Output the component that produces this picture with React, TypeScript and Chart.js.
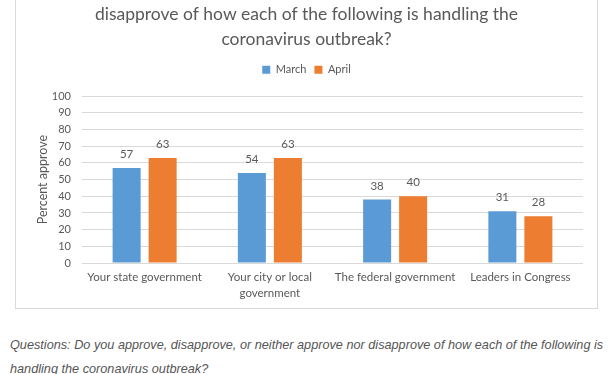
import React, { useEffect, useRef } from 'react';
import { Chart, registerables } from 'chart.js';

Chart.register(...registerables);

// ---- data ----
const titleLines = [
  'Do you approve, disapprove, or neither approve nor',
  'disapprove of how each of the following is handling the',
  'coronavirus outbreak?',
];
const categories: (string | string[])[] = [
  'Your state government',
  ['Your city or local', 'government'],
  'The federal government',
  'Leaders in Congress',
];
const seriesNames = ['March', 'April'];
const marchValues = [57, 54, 38, 31];
const aprilValues = [63, 63, 40, 28];
const yMin = 0;
const yMax = 100;
const yStep = 10;
const yAxisTitle = 'Percent approve';
const captionLines = [
  'Questions: Do you approve, disapprove, or neither approve nor disapprove of how each of the following is',
  'handling the coronavirus outbreak?',
];

const TEXT = '#595959';
const FONT = 'Lato, "Open Sans", sans-serif';

const legendSpacer = {
  id: 'legendSpacer',
  beforeInit(chart: any) {
    const legend = chart.legend;
    if (!legend) return;
    const origFit = legend.fit;
    legend.fit = function () {
      origFit.call(this);
      this.height += 11;
    };
  },
};

const valueLabels = {
  id: 'valueLabels',
  afterDatasetsDraw(chart: any) {
    const { ctx } = chart;
    ctx.save();
    ctx.font = `11.5px ${FONT}`;
    ctx.fillStyle = TEXT;
    ctx.textAlign = 'center';
    ctx.textBaseline = 'middle';
    chart.data.datasets.forEach((ds: any, di: number) => {
      const meta = chart.getDatasetMeta(di);
      meta.data.forEach((bar: any, i: number) => {
        ctx.fillText(String(ds.data[i]), bar.x, bar.y - 13.5);
      });
    });
    ctx.restore();
  },
};

function BarChart() {
  const ref = useRef<HTMLCanvasElement | null>(null);
  useEffect(() => {
    if (!ref.current) return;
    const chart = new Chart(ref.current, {
      type: 'bar',
      data: {
        labels: categories as any,
        datasets: [
          {
            label: seriesNames[0],
            data: marchValues,
            backgroundColor: '#5B9BD5',
            borderWidth: 0,
            categoryPercentage: 0.575,
            barPercentage: 0.778,
          },
          {
            label: seriesNames[1],
            data: aprilValues,
            backgroundColor: '#ED7D31',
            borderWidth: 0,
            categoryPercentage: 0.575,
            barPercentage: 0.778,
          },
        ],
      },
      options: {
        animation: false,
        responsive: false,
        devicePixelRatio: 1,
        layout: { padding: { left: 14, right: 14, top: 0, bottom: 7 } },
        plugins: {
          title: {
            display: true,
            text: titleLines,
            color: TEXT,
            font: { family: FONT, size: 17.5, weight: 'normal', lineHeight: '24.5px' as any },
            padding: { top: 0, bottom: 4.7 },
          },
          legend: {
            display: true,
            position: 'top',
            labels: {
              boxWidth: 8,
              boxHeight: 8,
              padding: 8,
              color: TEXT,
              font: { family: FONT, size: 11 },
            },
          },
          tooltip: { enabled: false },
        },
        scales: {
          x: {
            grid: { display: false, drawTicks: false },
            border: { display: false },
            ticks: {
              color: TEXT,
              font: { family: FONT, size: 11.5, lineHeight: '16px' as any },
              padding: 6,
              maxRotation: 0,
              autoSkip: false,
            },
            afterFit(s: any) {
              s.height = 38;
            },
          },
          y: {
            min: yMin,
            max: yMax,
            ticks: {
              stepSize: yStep,
              color: TEXT,
              font: { family: FONT, size: 11 },
              padding: 11,
            },
            grid: { color: '#D9D9D9', drawTicks: false, lineWidth: 1 },
            border: { display: false },
            title: {
              display: true,
              text: yAxisTitle,
              color: TEXT,
              font: { family: FONT, size: 12.5 },
              padding: { top: 5, bottom: 0 },
            },
            afterFit(s: any) {
              s.width = 52;
            },
          },
        },
      },
      plugins: [legendSpacer, valueLabels],
    });
    return () => chart.destroy();
  }, []);
  return <canvas ref={ref} width={581} height={330} style={{ display: 'block' }} />;
}

export default function App() {
  return (
    <div
      style={{
        position: 'fixed',
        left: 0,
        top: 0,
        width: 612,
        height: 374,
        overflow: 'hidden',
        background: '#ffffff',
      }}
    >
      <div
        style={{
          position: 'absolute',
          left: 15,
          top: -23,
          width: 581,
          height: 330,
          border: '1px solid #D9D9D9',
        }}
      >
        <BarChart />
      </div>
      <div
        style={{
          position: 'absolute',
          left: 10,
          top: 333,
          width: 602,
          fontFamily: '"Liberation Sans", Arial, sans-serif',
          fontStyle: 'italic',
          fontSize: 12.7,
          lineHeight: '24px',
          color: '#555555',
          whiteSpace: 'nowrap',
        }}
      >
        {captionLines[0]}
        <br />
        {captionLines[1]}
      </div>
    </div>
  );
}
